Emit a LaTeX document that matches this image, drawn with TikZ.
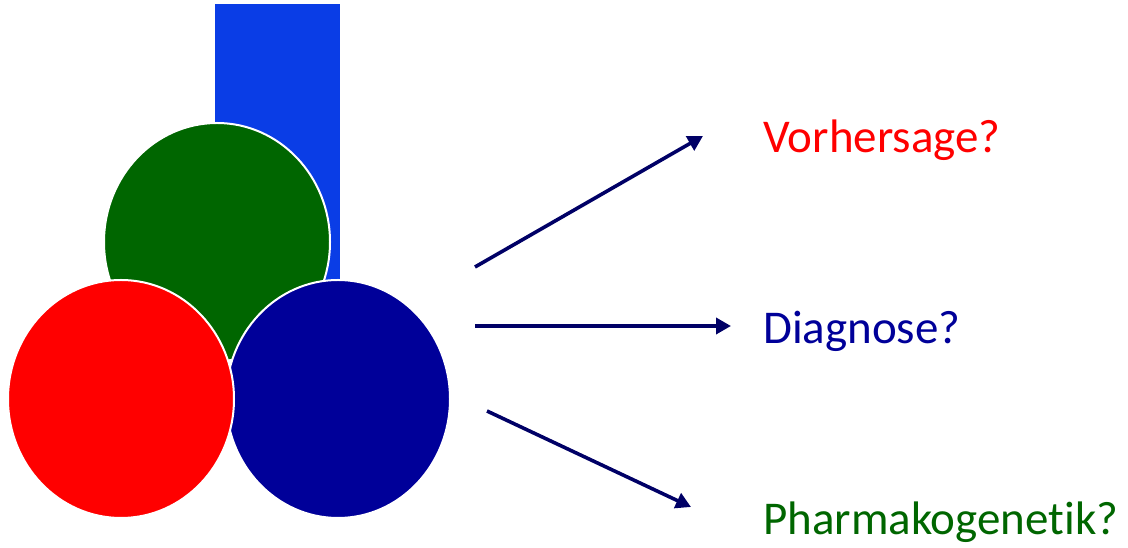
\documentclass[tikz,border=0pt]{standalone}
\usepackage{fontspec}
\setmainfont[Ligatures=NoCommon]{Carlito}
\usetikzlibrary{arrows.meta}
\definecolor{barblue}{RGB}{10,61,230}
\definecolor{discgreen}{RGB}{0,102,0}
\definecolor{discred}{RGB}{255,0,0}
\definecolor{discblue}{RGB}{0,0,153}
\definecolor{arrownavy}{RGB}{0,0,102}
\tikzset{
  disc/.style={draw=white, line width=2pt},
  pointer/.style={draw=arrownavy, line width=3.6pt,
    -{Triangle[length=15pt,width=16pt]}},
  label/.style={anchor=base west, inner sep=0pt, font=\fontsize{47}{56}\selectfont},
}
\begin{document}
\begin{tikzpicture}[x=1pt,y=1pt]
  \useasboundingbox (0,0) rectangle (1128,548);
  % vertical bar behind the discs
  \fill[barblue] (215,263) rectangle (340,544);
  % three overlapping discs
  \path[disc, fill=discgreen] (217,306) ellipse [x radius=113, y radius=119];
  \path[disc, fill=discblue] (338,149) ellipse [x radius=112, y radius=119];
  \path[disc, fill=discred] (121,149) ellipse [x radius=113, y radius=119];
  % labels
  \node[label, text=discred] (pred) at (763,395) {Vorhersage?};
  \node[label, text=discblue] (diag) at (763,204) {Diagnose?};
  \node[label, text=discgreen] (pharm) at (763,13) {Pharmakogenetik?};
  % arrow ends
  \coordinate (s1) at (475,281);
  \coordinate (t1) at (703,412);
  \coordinate (s2) at (475,222);
  \coordinate (t2) at (731,222);
  \coordinate (s3) at (487,137);
  \coordinate (t3) at (691,41);
  \draw[pointer] (s1) -- (t1);
  \draw[pointer] (s2) -- (t2);
  \draw[pointer] (s3) -- (t3);
\end{tikzpicture}
\end{document}
